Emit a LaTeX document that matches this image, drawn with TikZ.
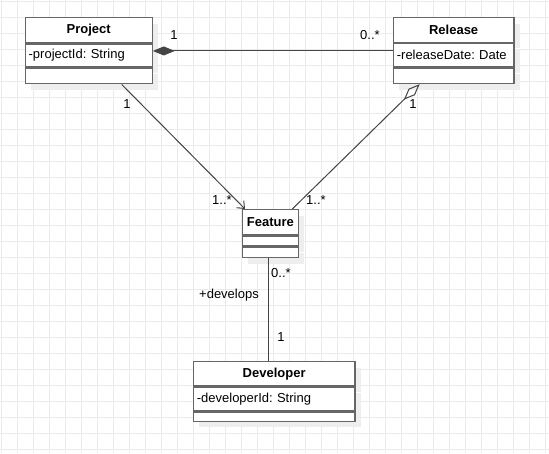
\documentclass[tikz,border=0pt]{standalone}
\usepackage{fontspec}
\setmainfont{Liberation Sans}
\usetikzlibrary{arrows.meta, positioning, calc, shadows}
\frenchspacing
\definecolor{boxline}{HTML}{666666}
\definecolor{gridline}{HTML}{EBEBEB}
\definecolor{shadowgray}{HTML}{EEEEEE}
\definecolor{linkline}{HTML}{444444}
\tikzset{
  clsname/.style ={rectangle, draw=boxline, fill=white, line width=1.3pt, inner sep=0pt,
                   anchor=north west, font=\fontsize{13}{15}\selectfont\bfseries,
                   drop shadow={shadow xshift=6pt, shadow yshift=-6pt, fill=shadowgray, opacity=1}},
  clsattr/.style ={rectangle, draw=boxline, fill=white, line width=1.3pt, inner xsep=3.5pt, inner ysep=0pt,
                   align=left, font=\fontsize{13}{15}\selectfont,
                   drop shadow={shadow xshift=6pt, shadow yshift=-6pt, fill=shadowgray, opacity=1}},
  clsops/.style  ={rectangle, draw=boxline, fill=white, line width=1.3pt, inner sep=0pt,
                   drop shadow={shadow xshift=6pt, shadow yshift=-6pt, fill=shadowgray, opacity=1}},
  mult/.style    ={font=\fontsize{13}{15}\selectfont, inner sep=1pt},
  gridln/.style  ={draw=gridline, line width=1pt},
  assoc/.style   ={draw=linkline, line width=1pt},
  compo/.style   ={{Diamond[length=22pt, width=9pt]}-, draw=linkline, line width=1pt},
  aggreg/.style  ={{Diamond[open, length=22pt, width=9pt]}-, draw=linkline, line width=1pt},
  navig/.style   ={-{Straight Barb[length=6pt, width=10pt]}, draw=linkline, line width=1pt},
}
\begin{document}
\begin{tikzpicture}[x=1pt, y=-1pt]
  \useasboundingbox (0,0) rectangle (549,453);
  \fill[white] (0,0) rectangle (549,453);
  % background grid
  \foreach \k in {0,...,34} \draw[gridln] (1+16*\k,0) -- (1+16*\k,453);
  \foreach \k in {0,...,28} \draw[gridln] (0,1+16*\k) -- (549,1+16*\k);

  % classes
  \node[clsname, minimum width=127pt, minimum height=25pt] (projname) at (24.5,17) {Project};
  \node[clsattr, below=0pt of projname, text width=120pt, minimum height=23pt] (projattr) {-projectId: String};
  \node[clsops, below=0pt of projattr, minimum width=127pt, minimum height=15.5pt] (projops) {};

  \node[clsname, minimum width=120.6pt, minimum height=24.7pt] (relname) at (392.7,17) {Release};
  \node[clsattr, below=0pt of relname, text width=113.6pt, minimum height=23.3pt] (relattr) {-releaseDate: Date};
  \node[clsops, below=0pt of relattr, minimum width=120.6pt, minimum height=15.3pt] (relops) {};

  \node[clsname, minimum width=56pt, minimum height=25pt] (featname) at (241.7,209) {Feature};
  \node[clsops, below=0pt of featname, minimum width=56pt, minimum height=9.7pt] (featattr) {};
  \node[clsops, below=0pt of featattr, minimum width=56pt, minimum height=10.6pt] (featops) {};

  \node[clsname, minimum width=161.6pt, minimum height=24.3pt] (devname) at (192.7,361) {Developer};
  \node[clsattr, below=0pt of devname, text width=154.6pt, minimum height=23.7pt] (devattr) {-developerId: String};
  \node[clsops, below=0pt of devattr, minimum width=161.6pt, minimum height=9pt] (devops) {};

  % associations
  \draw[compo] ([yshift=4.5pt]projattr.east) -- ([yshift=4.5pt]projattr.east -| relattr.west);
  \draw[navig] ([xshift=33pt]projops.south) -- ([xshift=3.3pt]featname.north west);
  \draw[aggreg] ([xshift=-34pt]relops.south) -- ([xshift=-6.7pt]featname.north east);
  \draw[assoc] ([xshift=-1.5pt]featops.south) -- ([xshift=-1.5pt]featops.south |- devname.north);

  % multiplicities and roles
  \node[mult] (mprojrel) at (174,35) {1};
  \node[mult] (mrelproj) at (370,35) {0..*};
  \node[mult] (mprojfeat) at (127,104) {1};
  \node[mult] (mfeatproj) at (222,200) {1..*};
  \node[mult] (mfeatrel) at (316,200) {1..*};
  \node[mult] (mrelfeat) at (413,104) {1};
  \node[mult] (mfeatdev) at (281,273) {0..*};
  \node[mult] (rdevelops) at (229,295) {+develops};
  \node[mult] (mdevfeat) at (281,337) {1};
\end{tikzpicture}
\end{document}
